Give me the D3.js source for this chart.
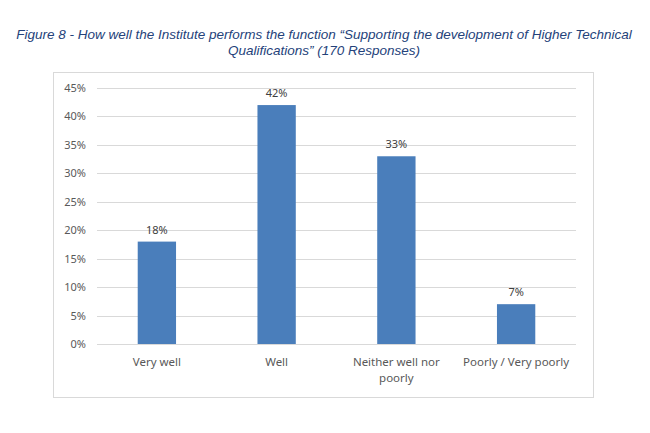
<!DOCTYPE html>
<html>
<head>
<meta charset="utf-8">
<script src="https://cdn.jsdelivr.net/npm/d3@7"></script>
<style>
  body { margin: 0; background: #fff; }
  svg text { font-family: "Noto Sans", "Open Sans", sans-serif; }
</style>
</head>
<body>
<div id="chart"></div>
<script>
// chart data
var categories = ["Very well", "Well", "Neither well nor poorly", "Poorly / Very poorly"];
var values = [18, 42, 33, 7];
var yTicks = [0, 5, 10, 15, 20, 25, 30, 35, 40, 45];
var titleLines = [
  "Figure 8 - How well the Institute performs the function \u201cSupporting the development of Higher Technical",
  "Qualifications\u201d (170 Responses)"
];
// label wrapping as seen in the picture
var categoryLines = [["Very well"], ["Well"], ["Neither well nor", "poorly"], ["Poorly / Very poorly"]];

var W = 650, H = 433;
var plot = { left: 97, right: 576, top: 88, bottom: 344 };

var svg = d3.select("#chart").append("svg")
  .attr("width", W).attr("height", H);

svg.append("rect").attr("width", W).attr("height", H).attr("fill", "#fff");

// title
svg.append("g").selectAll("text")
  .data(titleLines).enter()
  .append("text")
  .attr("x", 324)
  .attr("y", function(d, i) { return 39 + i * 16; })
  .attr("text-anchor", "middle")
  .style("font-family", "'Liberation Sans', Arial, sans-serif")
  .style("font-style", "italic")
  .style("font-size", "13.5px")
  .attr("fill", "#24427a")
  .text(function(d) { return d; });

// chart frame
svg.append("rect")
  .attr("x", 53.5).attr("y", 72.5)
  .attr("width", 540).attr("height", 325)
  .attr("fill", "none")
  .attr("stroke", "#d9d9d9");

var x = d3.scaleBand().domain(categories).range([plot.left, plot.right]).padding(0);
var y = d3.scaleLinear().domain([0, 45]).range([plot.bottom, plot.top]);

// gridlines
svg.append("g").selectAll("line")
  .data(yTicks).enter()
  .append("line")
  .attr("x1", plot.left).attr("x2", plot.right)
  .attr("y1", function(d) { return Math.round(y(d)) + 0.5; })
  .attr("y2", function(d) { return Math.round(y(d)) + 0.5; })
  .attr("stroke", "#d9d9d9");

// y axis labels
var yAxis = d3.axisLeft(y).tickValues(yTicks)
  .tickFormat(function(d) { return d + "%"; })
  .tickSize(0).tickPadding(11);
var gy = svg.append("g")
  .attr("transform", "translate(" + plot.left + ",0)")
  .call(yAxis);
gy.select(".domain").remove();
gy.selectAll("text")
  .style("font-size", "11px")
  .attr("fill", "#595959");

// bars
var barW = x.bandwidth() * 0.32;
svg.append("g").selectAll("rect")
  .data(values).enter()
  .append("rect")
  .attr("x", function(d, i) { return x(categories[i]) + (x.bandwidth() - barW) / 2; })
  .attr("y", function(d) { return y(d); })
  .attr("width", barW)
  .attr("height", function(d) { return y(0) - y(d); })
  .attr("fill", "#4a7ebb");

// value labels
svg.append("g").selectAll("text")
  .data(values).enter()
  .append("text")
  .attr("x", function(d, i) { return x(categories[i]) + x.bandwidth() / 2; })
  .attr("y", function(d) { return y(d) - 8; })
  .attr("text-anchor", "middle")
  .style("font-size", "11px")
  .attr("fill", "#404040")
  .text(function(d) { return d + "%"; });

// category labels
var cat = svg.append("g").selectAll("text")
  .data(categories).enter()
  .append("text")
  .attr("x", function(d) { return x(d) + x.bandwidth() / 2; })
  .attr("y", 366)
  .attr("text-anchor", "middle")
  .style("font-size", "11.5px")
  .attr("fill", "#595959");
cat.each(function(d, i) {
  d3.select(this).selectAll("tspan")
    .data(categoryLines[i]).enter()
    .append("tspan")
    .attr("x", x(d) + x.bandwidth() / 2)
    .attr("dy", function(t, j) { return j === 0 ? 0 : 16; })
    .text(function(t) { return t; });
});
</script>
</body>
</html>
